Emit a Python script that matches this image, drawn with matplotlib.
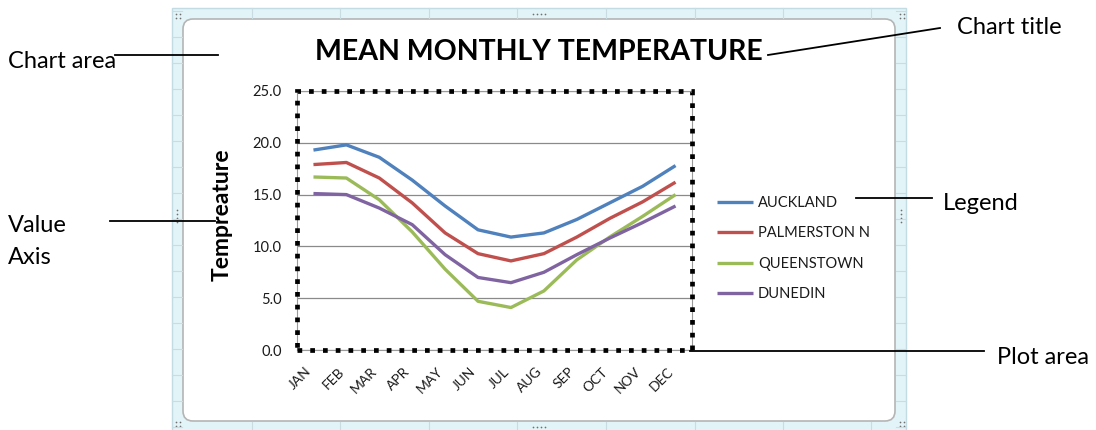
import matplotlib.pyplot as plt
from matplotlib.patches import Rectangle, FancyBboxPatch

plt.rcParams['font.family'] = ['Lato', 'DejaVu Sans']

months = ['JAN', 'FEB', 'MAR', 'APR', 'MAY', 'JUN', 'JUL', 'AUG', 'SEP', 'OCT', 'NOV', 'DEC']
auckland = [19.3, 19.8, 18.6, 16.4, 13.9, 11.6, 10.9, 11.3, 12.6, 14.2, 15.8, 17.8]
palmerston = [17.9, 18.1, 16.6, 14.2, 11.3, 9.3, 8.6, 9.3, 10.9, 12.7, 14.3, 16.2]
queenstown = [16.7, 16.6, 14.5, 11.4, 7.8, 4.7, 4.1, 5.7, 8.7, 10.9, 12.9, 15.0]
dunedin = [15.1, 15.0, 13.7, 12.1, 9.2, 7.0, 6.5, 7.5, 9.2, 10.8, 12.3, 13.9]
series = ['AUCKLAND', 'PALMERSTON N', 'QUEENSTOWN', 'DUNEDIN']
y_ticks = [0, 5, 10, 15, 20, 25]

colors = ['#4f81bd', '#c0504d', '#9bbb59', '#8064a2']
W, H = 1096, 430
text_col = '#1a1a1a'

fig = plt.figure(figsize=(W / 100, H / 100), dpi=100)

# background layer in pixel coordinates (spreadsheet + chart frame)
bg = fig.add_axes([0, 0, 1, 1], zorder=-1)
bg.set_xlim(0, W)
bg.set_ylim(H, 0)
bg.axis('off')

bg.add_patch(Rectangle((172, 8), 734, 430, facecolor='#e2f4f7', edgecolor='#c3dbe2', lw=1))
for cx in [252, 340, 429, 517, 606, 695, 783, 871]:
    bg.plot([cx, cx], [8, 18], color='#c8dce2', lw=0.8)
    bg.plot([cx, cx], [422, 430], color='#c8dce2', lw=0.8)
for ry in range(11, 430, 26):
    bg.plot([172, 182], [ry, ry], color='#c8dce2', lw=0.8)
    bg.plot([896, 906], [ry, ry], color='#c8dce2', lw=0.8)
bg.add_patch(FancyBboxPatch((183, 19), 712, 402, boxstyle='round,pad=0,rounding_size=10',
                            facecolor='white', edgecolor='#b5b5b5', lw=1.2))
# selection handles
hx = [176, 180, 176, 180]
hy = [14, 14, 18, 18]
for ox, oy in [(0, 0), (724, 0), (0, 408), (724, 408)]:
    bg.scatter([x + ox for x in hx], [y + oy for y in hy], s=1.5, color='#707070', lw=0)
bg.scatter([533, 537, 541, 545], [14] * 4, s=1.5, color='#707070', lw=0)
bg.scatter([533, 537, 541, 545], [427] * 4, s=1.5, color='#707070', lw=0)
bg.scatter([177] * 4, [210, 214, 218, 222], s=1.5, color='#707070', lw=0)
bg.scatter([901] * 4, [210, 214, 218, 222], s=1.5, color='#707070', lw=0)

# plot area
ax = fig.add_axes([297 / W, 1 - 350 / H, (692 - 297) / W, (350 - 91) / H])
ax.set_facecolor('white')
x = range(len(months))
for name, vals, c in zip(series, [auckland, palmerston, queenstown, dunedin], colors):
    ax.plot(x, vals, color=c, lw=2.4, label=name, solid_capstyle='butt')

ax.set_xlim(-0.5, len(months) - 0.5)
ax.set_ylim(0, 25)
ax.set_yticks(y_ticks)
ax.set_yticklabels([f'{v:.1f}' for v in y_ticks], fontsize=10.5, color=text_col)
ax.set_xticks(list(x))
ax.set_xticklabels(months, rotation=45, ha='right', fontsize=10, color=text_col)
ax.tick_params(axis='both', length=0)
ax.tick_params(axis='y', pad=11)
ax.tick_params(axis='x', pad=11)
ax.grid(axis='y', color='#8a8a8a', lw=0.9)
ax.set_axisbelow(True)
for s in ax.spines.values():
    s.set_color('#9a9a9a')
    s.set_linewidth(0.8)
ax.add_patch(Rectangle((0, 0), 1, 1, transform=ax.transAxes, fill=False, edgecolor='black',
                       lw=3.4, linestyle=(0, (1, 1.7)), clip_on=False, zorder=5))

ax.legend(loc='center left', bbox_to_anchor=(717 / W, 1 - 248.5 / H), bbox_transform=fig.transFigure,
          frameon=False, fontsize=10.5, handlelength=2.5, handletextpad=0.3, labelspacing=1.12,
          borderpad=0, borderaxespad=0, labelcolor=text_col)

fig.text(539 / W, 1 - 52 / H, 'MEAN MONTHLY TEMPERATURE', ha='center', va='center',
         fontsize=20.5, fontweight='bold', color='black')
fig.text(222 / W, 1 - 215 / H, 'Tempreature', rotation=90, ha='center', va='center',
         fontsize=16.5, fontweight='bold', color='black')

# callout annotations on top
fg = fig.add_axes([0, 0, 1, 1], zorder=10)
fg.set_xlim(0, W)
fg.set_ylim(H, 0)
fg.axis('off')
fg.patch.set_alpha(0)
line_kw = dict(color='black', lw=1.3)
fg.plot([115, 218], [55, 55], **line_kw)
fg.plot([110, 215], [221, 221], **line_kw)
fg.plot([768, 940], [55, 28], **line_kw)
fg.plot([856, 932], [198, 198], **line_kw)
fg.plot([690, 984], [351, 351], **line_kw)
ann_kw = dict(fontsize=17, color='black', va='center', ha='left')
fg.text(8, 62, 'Chart area', **ann_kw)
fg.text(8, 225, 'Value', **ann_kw)
fg.text(8, 257, 'Axis', **ann_kw)
fg.text(957, 27, 'Chart title', **ann_kw)
fg.text(943, 203, 'Legend', **ann_kw)
fg.text(997, 357, 'Plot area', **ann_kw)

fig.savefig('out.png', dpi=100)
